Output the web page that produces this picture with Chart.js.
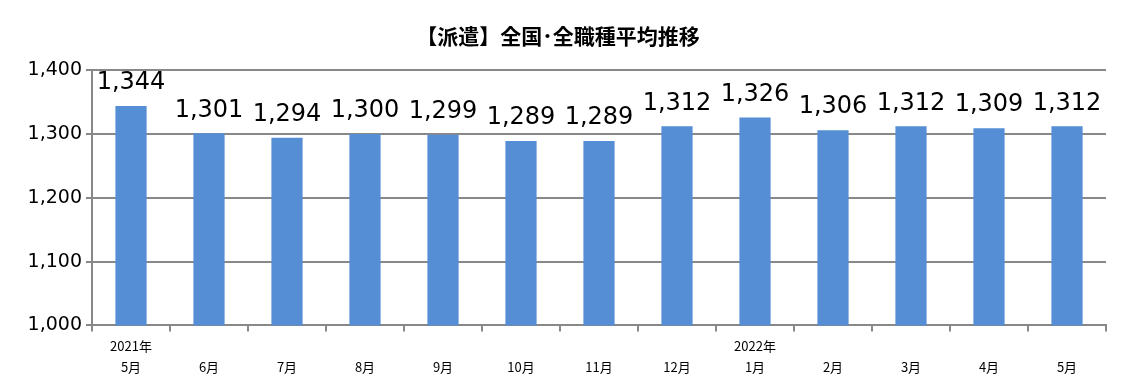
<!DOCTYPE html>
<html>
<head>
<meta charset="utf-8">
<script src="https://cdn.jsdelivr.net/npm/chart.js@4/dist/chart.umd.min.js"></script>
<style>
  html, body { margin: 0; padding: 0; background: #fff; }
  #wrap { width: 1129px; height: 390px; }
</style>
</head>
<body>
<div id="wrap"><canvas id="chart" width="1129" height="390"></canvas></div>
<script>
const chartTitle = "【派遣】全国･全職種平均推移";
const yearLabels = ["2021年", "", "", "", "", "", "", "", "2022年", "", "", "", ""];
const monthLabels = ["5月", "6月", "7月", "8月", "9月", "10月", "11月", "12月", "1月", "2月", "3月", "4月", "5月"];
const wages = [1344, 1301, 1294, 1300, 1299, 1289, 1289, 1312, 1326, 1306, 1312, 1309, 1312];
const yTicks = [1000, 1100, 1200, 1300, 1400];

const fmt = (v) => v.toLocaleString("en-US");

// value labels above each bar
const barLabels = {
    id: "barLabels",
    afterDatasetsDraw(chart) {
        const ctx = chart.ctx;
        const meta = chart.getDatasetMeta(0);
        ctx.save();
        ctx.font = "24px 'DejaVu Sans'";
        ctx.fillStyle = "#000";
        ctx.textAlign = "center";
        ctx.textBaseline = "bottom";
        meta.data.forEach((bar, i) => {
            ctx.fillText(fmt(wages[i]), bar.x, bar.y - 11);
        });
        ctx.restore();
    }
};

const ctx = document.getElementById("chart").getContext("2d");
new Chart(ctx, {
    type: "bar",
    data: {
        labels: monthLabels.map((m, i) => [yearLabels[i], m]),
        datasets: [{
            data: wages,
            backgroundColor: "#558ED5",
            barPercentage: 0.8,
            categoryPercentage: 0.5,
        }],
    },
    options: {
        responsive: false,
        animation: false,
        layout: { padding: { left: 10, right: 23, top: 6, bottom: 9 } },
        plugins: {
            legend: { display: false },
            tooltip: { enabled: false },
            title: {
                display: true,
                text: chartTitle,
                color: "#000",
                font: { family: "'Noto Sans CJK JP'", size: 21, weight: "bold", lineHeight: 1.2 },
                padding: { top: 17, bottom: 22 },
            },
        },
        scales: {
            x: {
                offset: true,
                grid: {
                    offset: true,
                    drawOnChartArea: false,
                    drawTicks: true,
                    tickLength: 6,
                    color: "#888",
                    lineWidth: 2,
                },
                border: { display: true, color: "#888", width: 2 },
                ticks: {
                    color: "#000",
                    font: { family: "'Noto Sans CJK JP'", size: 13, lineHeight: 1.6 },
                    maxRotation: 0,
                    autoSkip: false,
                    padding: 4,
                },
            },
            y: {
                min: 1000,
                max: 1400,
                afterBuildTicks(axis) {
                    axis.ticks = yTicks.map((v) => ({ value: v }));
                },
                afterFit(axis) {
                    axis.width = 82;
                },
                grid: {
                    color: "#888",
                    lineWidth: 2,
                    tickLength: 6,
                },
                border: { display: true, color: "#888", width: 2 },
                ticks: {
                    color: "#000",
                    font: { family: "'DejaVu Sans'", size: 19 },
                    padding: 4,
                    callback: (v) => fmt(v),
                },
            },
        },
    },
    plugins: [barLabels],
});
</script>
</body>
</html>
